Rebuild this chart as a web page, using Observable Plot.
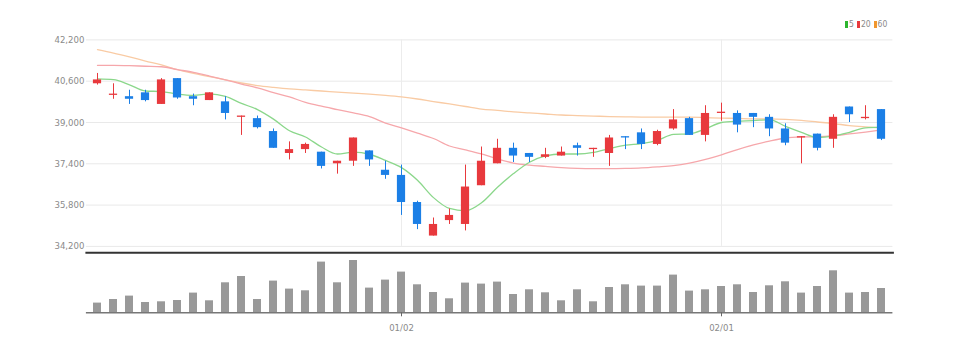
<!DOCTYPE html>
<html>
<head>
<meta charset="utf-8">
<script src="https://cdn.jsdelivr.net/npm/d3@7"></script>
<script src="https://cdn.jsdelivr.net/npm/@observablehq/plot@0.6"></script>
<style>
  body { margin: 0; background: #fff; }
  #wrap { position: relative; width: 953px; height: 351px; overflow: hidden;
          font-family: "Liberation Sans Narrow", "DejaVu Sans Condensed", sans-serif; }
  #price { position: absolute; left: 0; top: 0; }
  #vol { position: absolute; left: 0; top: 250px; }
  #legend { position: absolute; top: 19px; left: 845px; font-size: 8.5px; color: #8a8a8a;
            display: flex; align-items: center; line-height: 10px; white-space: nowrap; }
  #legend .sw { display: inline-block; width: 3px; height: 7px; margin-right: 1px; }
  #legend .it { display: inline-flex; align-items: center; margin-right: 3px; }
</style>
</head>
<body>
<div id="wrap">
  <div id="price"></div>
  <div id="vol"></div>
  <div id="legend"></div>
</div>
<script>
// ---- data ----
const dates = ["12/05","12/06","12/07","12/08","12/09","12/12","12/13","12/14","12/15","12/16",
  "12/19","12/20","12/21","12/22","12/23","12/26","12/27","12/28","12/29",
  "01/02","01/03","01/04","01/05","01/06","01/09","01/10","01/11","01/12","01/13",
  "01/16","01/17","01/18","01/19","01/20","01/25","01/26","01/27","01/30","01/31",
  "02/01","02/02","02/03","02/06","02/07","02/08","02/09","02/10","02/13","02/14","02/15"];
const open  = [40500,40050,40000,40150,39700,40700,40000,39850,39800,39200,39150,38650,37800,37950,37850,37400,37500,37900,37150,36950,
  35900,34600,35200,35050,36550,37400,38000,37800,37650,37700,38100,37950,37800,38450,38600,38150,38750,39150,38500,39350,
  39350,39350,39200,38750,38400,38550,38350,39600,39150,39500];
const high  = [40900,40500,40250,40250,40700,40700,40100,40150,40000,39250,39250,38750,38250,38200,37850,37500,38400,37900,37500,37350,
  35950,35300,35650,37350,38050,38350,38200,37800,38000,38050,38200,38000,38500,38450,38750,38700,39500,39200,39650,39750,
  39450,39350,39300,38950,38450,38550,39300,39600,39650,39500];
const low   = [40450,39900,39700,39800,39700,39900,39650,39850,39100,38500,38750,38000,37550,37800,37200,37000,37300,37300,36800,35400,
  34850,34600,35050,34800,36550,37400,37450,37450,37600,37700,37700,37650,37300,37950,37950,38100,38700,38500,38250,39050,
  38600,38800,38450,38100,37400,37900,38000,39000,39100,38300];
const close = [40650,40100,39900,39850,40650,39950,39900,40150,39350,39250,38800,38000,37950,38150,37300,37500,38400,37550,36950,35900,
  35050,35050,35400,36500,37500,38000,37700,37650,37750,37850,38000,38000,38400,38400,38150,38650,39100,38500,39350,39400,
  38900,39200,38750,38200,38450,38000,39200,39300,39200,38350];
const volume = [97,133,167,103,110,123,197,120,300,363,133,317,237,220,507,300,523,247,327,407,
  280,203,140,297,287,307,183,230,200,120,230,110,253,280,267,267,377,217,230,263,
  280,203,270,310,197,263,420,197,203,243];
const ma5  = [40690,40660,40460,40220,40200,40100,40050,40110,40010,39740,39500,39130,38680,38440,38050,37780,37850,37770,37530,37250,
  36760,36090,35670,35580,35890,36490,37020,37460,37710,37780,37780,37840,37990,38120,38180,38310,38540,38560,38750,39000,
  39050,39070,39110,38850,38620,38420,38480,38620,38790,38820];
const ma20 = [41210,41210,41200,41180,41160,41050,40940,40800,40650,40490,40340,40160,39990,39780,39630,39500,39370,39230,38980,38790,
  38590,38380,38090,37940,37780,37590,37430,37350,37300,37250,37220,37210,37210,37220,37240,37280,37330,37430,37570,37750,
  37950,38130,38280,38400,38440,38450,38490,38560,38630,38710];
const ma60 = [41820,41690,41540,41380,41230,41050,40900,40780,40650,40530,40430,40360,40300,40260,40220,40180,40140,40100,40050,39990,
  39910,39810,39720,39620,39520,39470,39410,39370,39330,39290,39270,39250,39230,39220,39210,39210,39210,39210,39190,39170,
  39160,39140,39140,39120,39080,39020,38960,38880,38830,38790];
const yTicks = [34200, 35800, 37400, 39000, 40600, 42200];
const xTicks = ["01/02", "02/01"];
const legendItems = [{label: "5", color: "#2db52d"}, {label: "20", color: "#e8393d"}, {label: "60", color: "#f0962e"}];

// ---- build rows ----
const rows = dates.map((d, i) => ({
  date: d, open: open[i], high: high[i], low: low[i], close: close[i],
  dir: close[i] >= open[i] ? "up" : "down",
  ma5: ma5[i], ma20: ma20[i], ma60: ma60[i], vol: volume[i]
}));

const FONT = '"Liberation Sans Narrow", "DejaVu Sans Condensed", sans-serif';
const W = 953, ML = 85.9, MR = 60.6;

const price = Plot.plot({
  width: W, height: 252,
  marginLeft: ML, marginRight: MR, marginTop: 39.4, marginBottom: 6.1,
  style: {fontFamily: FONT, fontSize: "9.5px", color: "#8a8a8a", background: "transparent"},
  x: {type: "band", domain: dates, padding: 0, axis: null},
  y: {domain: [34200, 42200], axis: null},
  color: {domain: ["up", "down"], range: ["#e8393d", "#1b7fe6"]},
  marks: [
    Plot.gridY(yTicks, {stroke: "#e9e9e9", strokeOpacity: 1}),
    Plot.gridX(xTicks, {stroke: "#ececec", strokeOpacity: 1}),
    Plot.axisY(yTicks, {tickSize: 0, tickPadding: 2, tickFormat: d3.format(","), label: null, fill: "#8a8a8a"}),
    Plot.line(rows, {x: "date", y: "ma60", stroke: "#f9cba4", strokeWidth: 1.3, curve: "monotone-x"}),
    Plot.line(rows, {x: "date", y: "ma20", stroke: "#f6a7ab", strokeWidth: 1.3, curve: "monotone-x"}),
    Plot.line(rows, {x: "date", y: "ma5", stroke: "#8bd78b", strokeWidth: 1.3, curve: "monotone-x"}),
    Plot.ruleX(rows, {x: "date", y1: "low", y2: "high", stroke: "dir", strokeWidth: 1}),
    Plot.barY(rows, {x: "date", y1: "open", y2: "close", fill: "dir", insetLeft: 3.9, insetRight: 3.9})
  ]
});
document.getElementById("price").appendChild(price);

const vol = Plot.plot({
  width: W, height: 101,
  marginLeft: ML, marginRight: MR, marginTop: 2.3, marginBottom: 38.7,
  style: {fontFamily: FONT, fontSize: "9.5px", color: "#8a8a8a", background: "transparent"},
  x: {type: "band", domain: dates, padding: 0, axis: null},
  y: {domain: [0, 600], axis: null},
  marks: [
    Plot.frame({anchor: "top", stroke: "#333", strokeWidth: 2}),
    Plot.barY(rows, {x: "date", y: "vol", fill: "#999999", insetLeft: 4, insetRight: 4}),
    Plot.ruleY([0], {stroke: "#777", strokeWidth: 1.5}),
    Plot.axisX(xTicks, {tickSize: 4, tickPadding: 7, stroke: "#666", fill: "#8a8a8a", label: null})
  ]
});
document.getElementById("vol").appendChild(vol);

// legend
const lg = document.getElementById("legend");
for (const it of legendItems) {
  const s = document.createElement("span");
  s.className = "it";
  s.innerHTML = `<span class="sw" style="background:${it.color}"></span><span>${it.label}</span>`;
  lg.appendChild(s);
}
</script>
</body>
</html>
